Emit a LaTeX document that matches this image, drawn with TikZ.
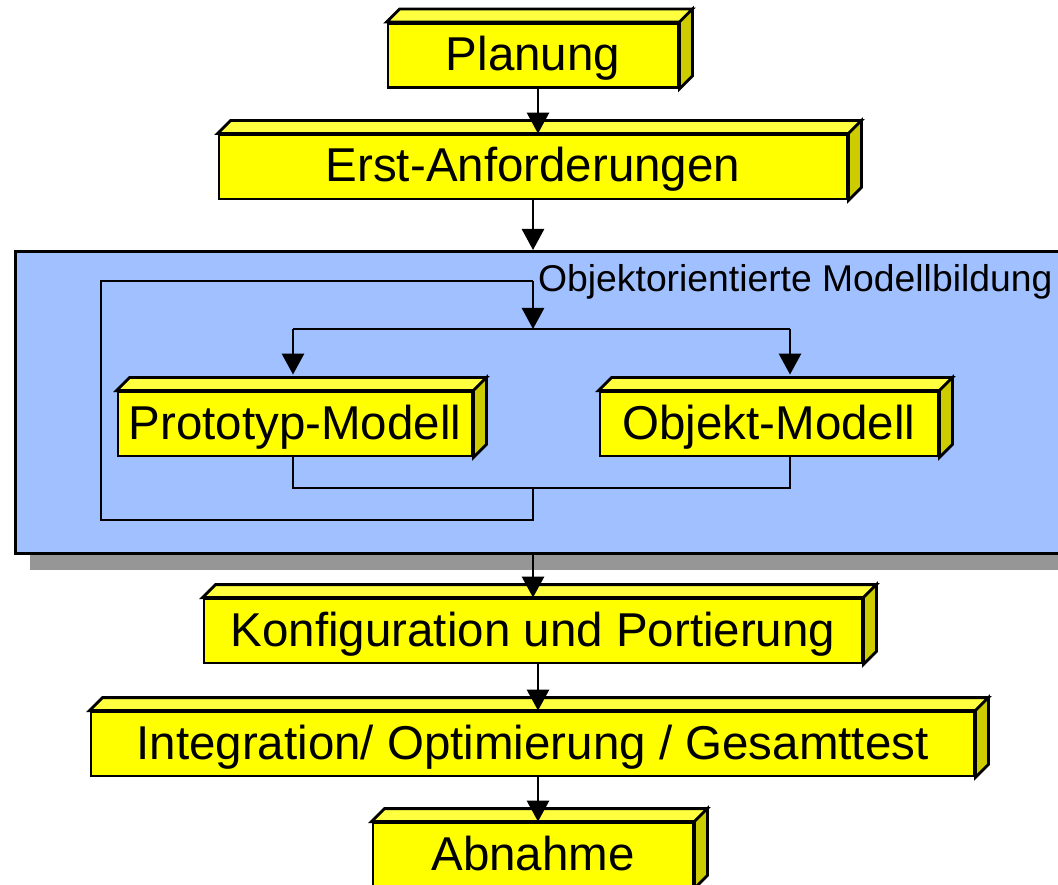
\documentclass[tikz,border=0pt]{standalone}
\usepackage{fontspec}
\setmainfont{Liberation Sans}
\usetikzlibrary{arrows.meta,calc}

\definecolor{boxfront}{RGB}{255,255,0}
\definecolor{boxtop}{RGB}{255,255,64}
\definecolor{boxside}{RGB}{204,204,0}
\definecolor{panelblue}{RGB}{160,192,255}
\definecolor{panelshade}{RGB}{150,150,150}

\begin{document}
\begin{tikzpicture}[x=1pt,y=1pt,yscale=-1,xscale=1,
    block/.style={draw, fill=boxfront, line width=2.8pt, inner sep=0pt, minimum height=64pt,
      text height=38pt, text depth=8pt, font=\fontsize{47.5}{50}\selectfont},
    link/.style={line width=2.8pt, -{Triangle[width=22pt,length=21pt]}},
    wire/.style={line width=2.8pt}]
    \useasboundingbox (0,0) rectangle (1058,885);
    \clip (0,0) rectangle (1058,885);

    %Shape: Panel with shadow
    \node [fill=panelshade, minimum width=1080pt, minimum height=302pt, anchor=north west, inner sep=0pt] (shade) at (30,268) {};
    \node [draw, fill=panelblue, line width=2.8pt, minimum width=1080pt, minimum height=302pt, anchor=north west, inner sep=0pt] (panel) at (14,250) {};
    % Text Node
    \node [anchor=base west, inner sep=0pt, font=\fontsize{37.3}{40}\selectfont] (title) at (538,292) {Objektorientierte Modellbildung};

    %Shape: Boxes
    \node [block, minimum width=290pt] (plan) at (533,55.5) {Planung};
    \node [block, minimum width=628pt] (erst) at (533,167) {Erst-Anforderungen};
    \node [block, minimum width=354pt] (proto) at (295,424) {Prototyp-Modell};
    \node [block, minimum width=338pt] (objekt) at (769,424) {Objekt-Modell};
    \node [block, minimum width=658pt] (konf) at (533,631) {Konfiguration und Portierung};
    \node [block, minimum width=883pt] (integ) at (532.5,744) {Integration/ Optimierung / Gesamttest};
    \node [block, minimum width=320pt] (abn) at (533,855) {Abnahme};

    %Shape: top and side faces
    \foreach \b in {plan,erst,proto,objekt,konf,integ,abn} {
      \filldraw [fill=boxtop, line width=2.8pt] (\b.north west) -- ++(13,-13) -- ($(\b.north east)+(13,-13)$) -- (\b.north east) -- cycle;
      \filldraw [fill=boxside, line width=2.8pt] (\b.north east) -- ++(13,-13) -- ($(\b.south east)+(13,-13)$) -- (\b.south east) -- cycle;
    }

    %Straight Lines: inner loop
    \coordinate (loopend) at (533,281);
    \coordinate (looptl) at (101,281);
    \coordinate (loopbl) at (101,520);
    \coordinate (merge) at (533,488);
    \coordinate (fork) at (533,329);
    \coordinate (forkl) at (293,329);
    \coordinate (forkr) at (790,329);
    \draw [wire] (merge) -- (merge |- loopbl) -- (loopbl) -- (looptl) -- (loopend);
    \draw [link] (loopend) -- (fork);
    \draw [wire] (forkl) -- (forkr);
    \draw [link] (forkl) -- ($(proto.north -| forkl)+(0,-16)$);
    \draw [link] (forkr) -- ($(objekt.north -| forkr)+(0,-16)$);
    \draw [wire] (proto.south -| forkl) -- (forkl |- merge) -- (forkr |- merge) -- (objekt.south -| forkr);

    %Straight Lines: main flow
    \draw [link] ($(plan.south)+(5,0)$) -- ($(erst.north)+(5,0)$);
    \draw [link] (erst.south) -- (erst.south |- panel.north);
    \draw [link] (panel.south -| konf.north) -- (konf.north);
    \draw [link] ($(konf.south)+(5,0)$) -- ($(integ.north)+(5.5,0)$);
    \draw [link] ($(integ.south)+(5.5,0)$) -- ($(abn.north)+(5,0)$);
\end{tikzpicture}
\end{document}
